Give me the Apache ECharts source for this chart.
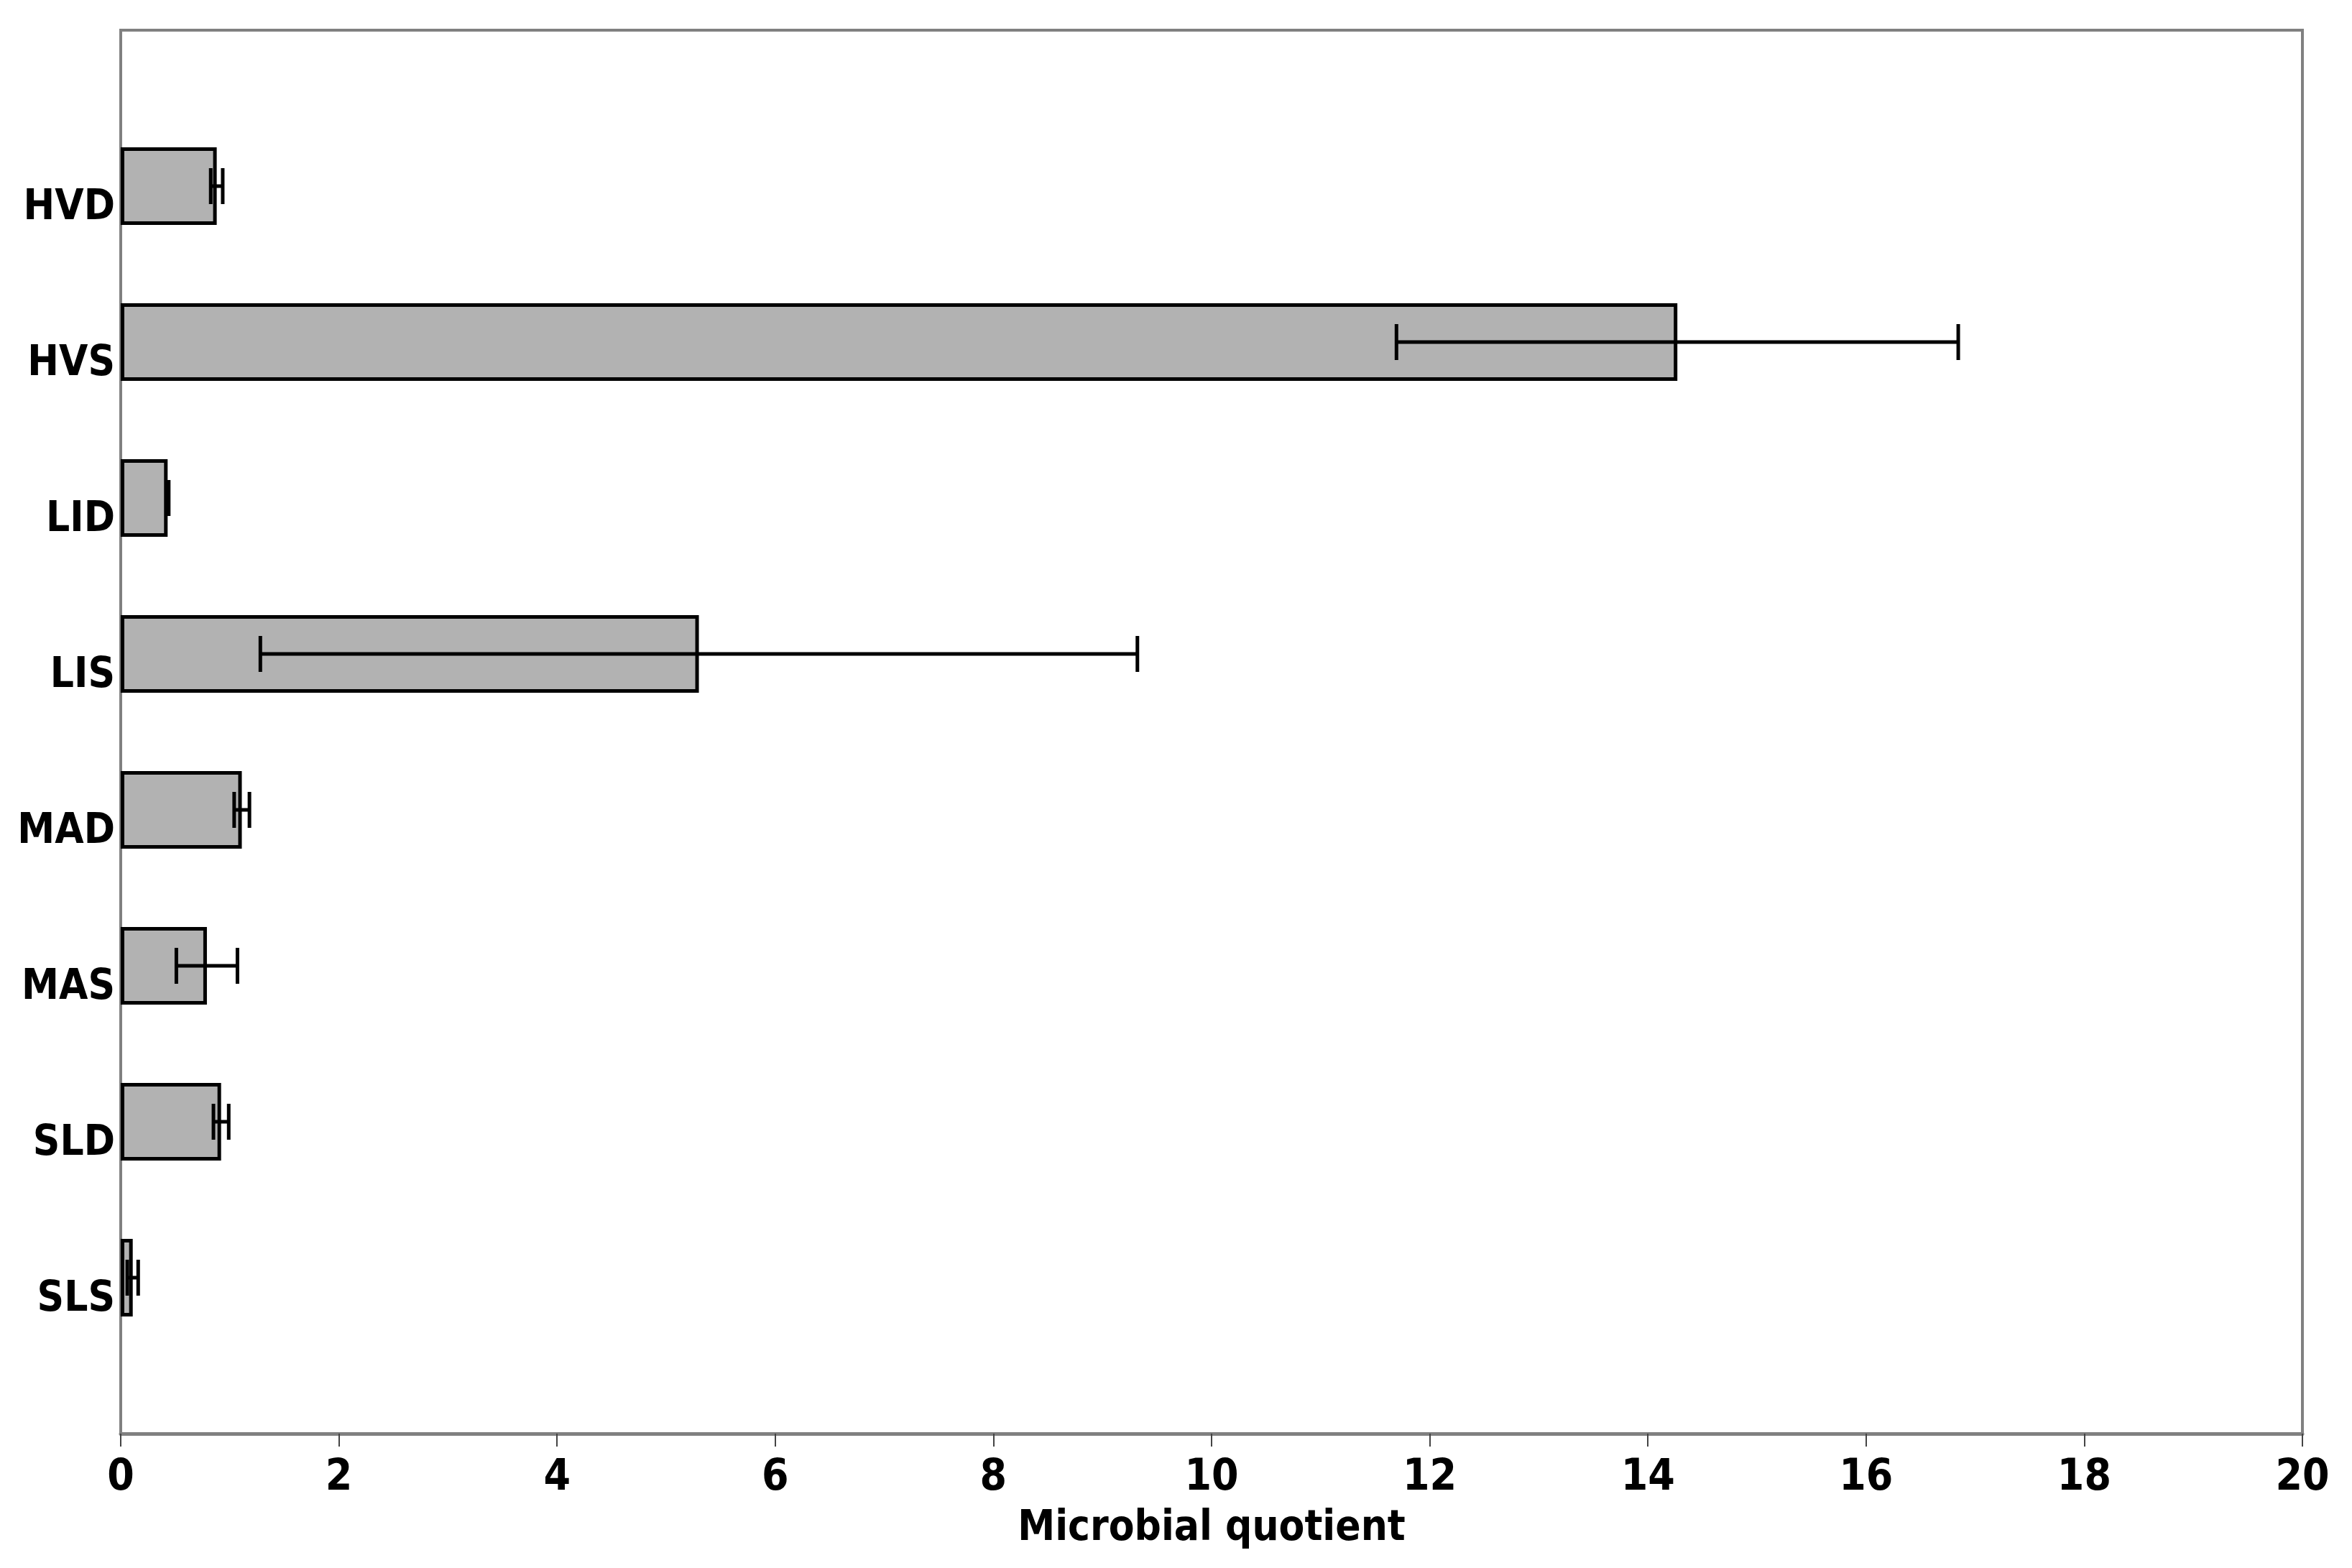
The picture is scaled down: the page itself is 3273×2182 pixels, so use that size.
<!DOCTYPE html>
<html>
<head>
<meta charset="utf-8">
<script src="https://cdn.jsdelivr.net/npm/echarts@6/dist/echarts.min.js"></script>
<style>
  html, body { margin: 0; padding: 0; background: #fff; }
  #chart { width: 3273px; height: 2182px; }
</style>
</head>
<body>
<div id="chart"></div>
<script>
// sites, top to bottom
const categories = ['HVD', 'HVS', 'LID', 'LIS', 'MAD', 'MAS', 'SLD', 'SLS'];
// microbial quotient, mean and error
const means = [0.88, 14.27, 0.43, 5.30, 1.11, 0.79, 0.92, 0.11];
const errors = [0.055, 2.575, 0.01, 4.02, 0.07, 0.28, 0.07, 0.05];
const xTicks = [0, 2, 4, 6, 8, 10, 12, 14, 16, 18, 20];

const font = '"Liberation Sans Narrow", "DejaVu Sans Condensed", Arial, sans-serif';

// one empty slot above and below, like the excel axis
const yData = [''].concat(categories, ['']);
const barData = ['-'].concat(means, ['-']);
const errData = categories.map((c, i) => [i + 1, means[i] - errors[i], means[i] + errors[i]]);

const chart = echarts.init(document.getElementById('chart'));
chart.setOption({
  animation: false,
  backgroundColor: '#fff',
  grid: {
    left: 168, right: 69, top: 42, bottom: 187,
    show: true, borderColor: '#808080', borderWidth: 4
  },
  xAxis: {
    type: 'value',
    min: xTicks[0],
    max: xTicks[xTicks.length - 1],
    interval: 2,
    name: 'Microbial quotient',
    nameLocation: 'middle',
    nameGap: 104,
    nameTextStyle: { fontFamily: font, fontWeight: 'bold', fontSize: 58, color: '#000' },
    axisLine: { show: true, lineStyle: { color: '#808080', width: 5 } },
    axisTick: { show: true, length: 18, lineStyle: { color: '#444', width: 2 } },
    axisLabel: { fontFamily: font, fontWeight: 'bold', fontSize: 60, color: '#000', margin: 32 },
    splitLine: { show: false }
  },
  yAxis: {
    type: 'category',
    data: yData,
    inverse: true,
    boundaryGap: false,
    axisLine: { show: true, lineStyle: { color: '#808080', width: 4 } },
    axisTick: { show: false },
    axisLabel: {
      fontFamily: font, fontWeight: 'bold', fontSize: 58, color: '#000', margin: 8,
      verticalAlign: 'top', padding: [2, 0, 0, 0]
    },
    splitLine: { show: false }
  },
  series: [
    {
      type: 'bar',
      data: barData,
      barWidth: 108,
      itemStyle: { color: '#b2b2b2', borderColor: '#000', borderWidth: 5 },
      z: 2
    },
    {
      type: 'custom',
      data: errData,
      z: 5,
      renderItem: function (params, api) {
        const cat = api.value(0);
        const lo = api.coord([api.value(1), cat]);
        const hi = api.coord([api.value(2), cat]);
        const half = 25;
        const style = { stroke: '#000', lineWidth: 5 };
        return {
          type: 'group',
          children: [
            { type: 'line', shape: { x1: lo[0], y1: lo[1], x2: hi[0], y2: hi[1] }, style: style },
            { type: 'line', shape: { x1: lo[0], y1: lo[1] - half, x2: lo[0], y2: lo[1] + half }, style: style },
            { type: 'line', shape: { x1: hi[0], y1: hi[1] - half, x2: hi[0], y2: hi[1] + half }, style: style }
          ]
        };
      }
    }
  ]
});
</script>
</body>
</html>
